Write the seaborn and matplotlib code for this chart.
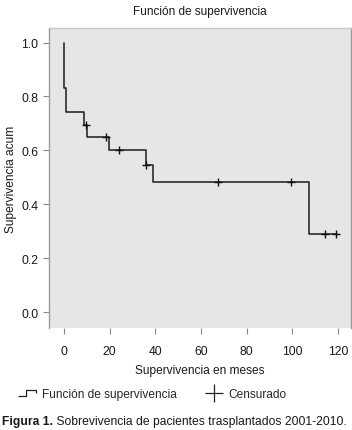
import numpy as np
import pandas as pd
import matplotlib
matplotlib.use("Agg")
import matplotlib.pyplot as plt
from matplotlib.lines import Line2D
from matplotlib.path import Path
import seaborn as sns

# survival function (Kaplan-Meier steps)
step_time = [0, 0, 1.0, 8.9, 10.2, 19.9, 35.9, 38.8, 107.2, 119.5]
step_surv = [1.0, 0.83, 0.742, 0.695, 0.649, 0.600, 0.546, 0.484, 0.289, 0.289]

# censored cases
cens_time = [9.5, 18.3, 24.1, 35.9, 67.6, 99.4, 114.3, 119.0]
cens_surv = [0.695, 0.649, 0.600, 0.546, 0.484, 0.484, 0.289, 0.289]

x_ticks = [0, 20, 40, 60, 80, 100, 120]
y_ticks = [0.0, 0.2, 0.4, 0.6, 0.8, 1.0]

steps = pd.DataFrame({"t": step_time, "s": step_surv})
cens = pd.DataFrame({"t": cens_time, "s": cens_surv})

sns.set_theme(style="ticks")
plt.rcParams["font.family"] = ["Liberation Sans", "DejaVu Sans"]

fig = plt.figure(figsize=(3.52, 4.31), dpi=100)
ax = fig.add_axes([0.139, 0.2367, 0.858, 0.696])
ax.set_facecolor("#e6e6e6")

sns.lineplot(data=steps, x="t", y="s", estimator=None, sort=False,
             drawstyle="steps-post", color="#2b2b2b", linewidth=1.2, ax=ax)
sns.scatterplot(data=cens, x="t", y="s", marker="+", s=40, color="#111111",
                linewidth=1.0, ax=ax, zorder=3)

ax.set_xlim(-6.6, 125.7)
ax.set_ylim(-0.059, 1.054)
ax.set_xticks(x_ticks)
ax.set_xticklabels([str(v) for v in x_ticks])
ax.set_yticks(y_ticks)
ax.set_yticklabels([f"{v:.1f}" for v in y_ticks])

for sp in ax.spines.values():
    sp.set_color("#9a9a9a")
    sp.set_linewidth(1.0)
ax.spines["bottom"].set_visible(False)
ax.spines["top"].set_color("#c8c8c8")

ax.tick_params(axis="both", colors="#888888", labelcolor="#1a1a1a",
               labelsize=8.8, length=4, width=0.8)
ax.tick_params(axis="x", pad=8)
ax.set_xlabel("Supervivencia en meses", fontsize=8.6, color="#1a1a1a", labelpad=5)
ax.set_ylabel("Supervivencia acum", fontsize=8.6, color="#1a1a1a", labelpad=3)
ax.set_title("Función de supervivencia", fontsize=8.5, color="#1a1a1a", pad=10)

# legend below the plot
step_marker = Path([(-1.0, -0.35), (-0.15, -0.35), (-0.15, 0.3), (1.0, 0.3), (1.0, 0.05)],
                   [Path.MOVETO, Path.LINETO, Path.LINETO, Path.LINETO, Path.LINETO])
handles = [
    Line2D([], [], linestyle="none", marker=step_marker, markersize=13,
           markerfacecolor="none", markeredgecolor="#222222", markeredgewidth=0.9),
    Line2D([], [], linestyle="none", marker="+", markersize=13,
           color="#222222", markeredgewidth=0.9),
]
fig.legend(handles, ["Función de supervivencia", "Censurado"],
           loc="center", bbox_to_anchor=(0.435, 0.083), ncol=2, frameon=False,
           fontsize=8.6, handlelength=1.2, handletextpad=0.6, columnspacing=2.5)

cap = fig.text(0.005, 0.022, "Figura 1.", fontsize=8.7, fontweight="bold",
               color="#1a1a1a", va="center", ha="left")
ax.annotate(" Sobrevivencia de pacientes trasplantados 2001-2010.",
            xy=(1, 0.5), xycoords=cap, va="center", ha="left",
            fontsize=8.7, color="#1a1a1a", annotation_clip=False)

fig.savefig("out.png", dpi=100)
